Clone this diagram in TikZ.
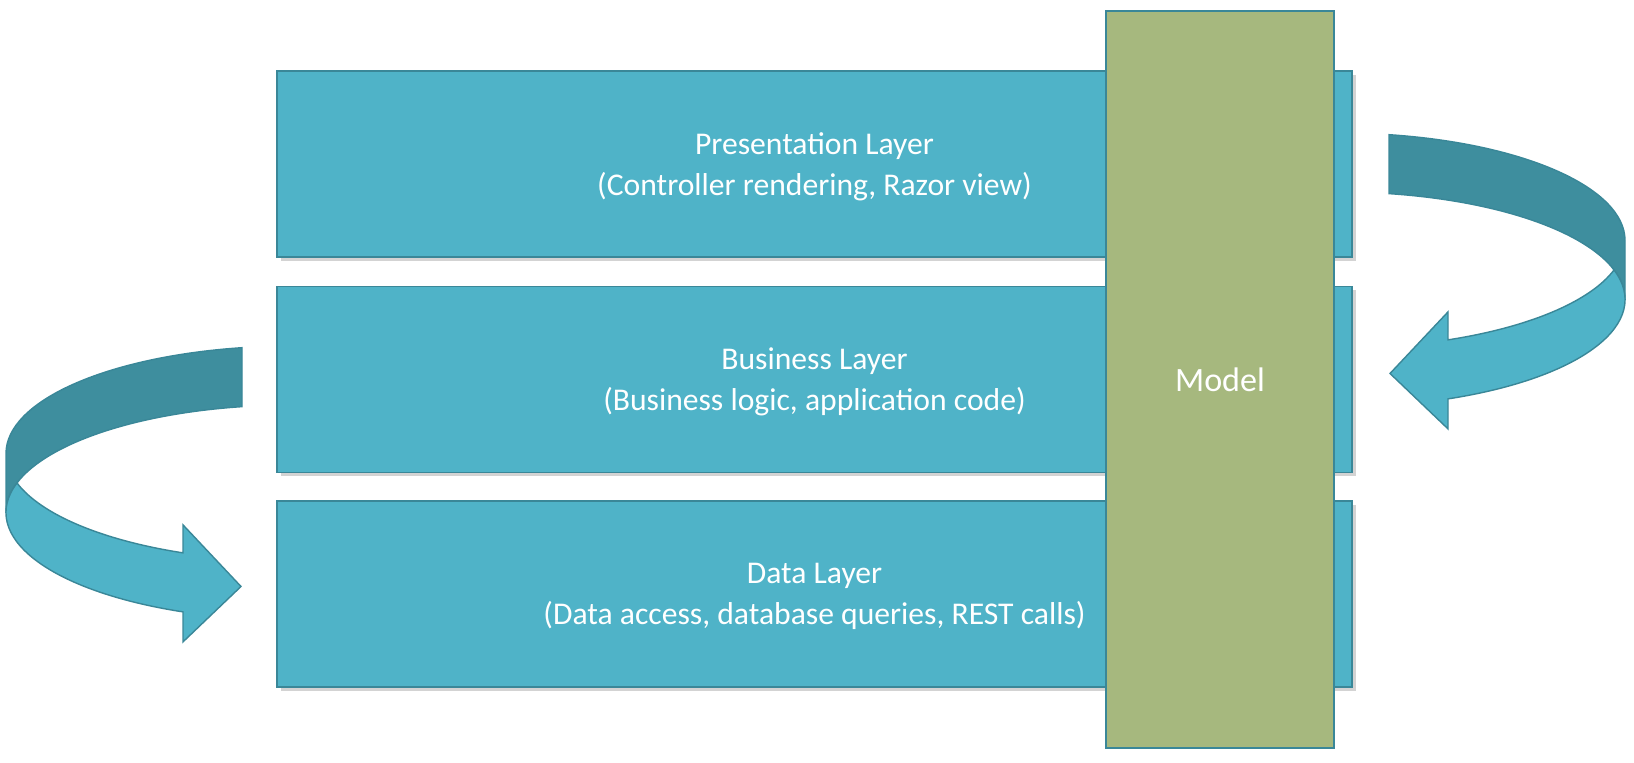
\documentclass[tikz,border=0pt]{standalone}
\usepackage{fontspec}
\setmainfont{Carlito}
\usetikzlibrary{positioning,shadows}
\definecolor{layerblue}{HTML}{4FB3C8}
\definecolor{layerline}{HTML}{3A8798}
\definecolor{bandback}{HTML}{3E8E9E}
\definecolor{modelgreen}{HTML}{A6B87E}
\tikzset{
  layer/.style={draw=layerline, fill=layerblue, minimum width=10.75cm, minimum height=1.86cm,
    text=white, align=center, font=\fontsize{9}{11.6}\selectfont, text depth=-0.04cm,
    drop shadow={shadow xshift=0.04cm, shadow yshift=-0.04cm, opacity=0.35}},
  modelbox/.style={draw=layerline, fill=modelgreen, minimum width=2.28cm, minimum height=7.37cm,
    text=white, font=\fontsize{9.7}{12}\selectfont},
  band/.style={draw=layerline, line width=0.4pt}
}
% turning arrow, origin at centre of upper ellipse
\newcommand{\turnarrow}{
  \draw[band, fill=bandback] (0.5,1.058)
    arc[start angle=79.93, end angle=0, x radius=2.86, y radius=1.075]
    -- (2.86,-0.59)
    arc[start angle=0, end angle=79.93, x radius=2.86, y radius=1.075] -- cycle;
  \draw[band, fill=layerblue] (2.75,-0.295)
    arc[start angle=-15.93, end angle=-67.6, x radius=2.86, y radius=1.075]
    -- (1.09,-0.714) -- (0.51,-1.33) -- (1.09,-1.884) -- (1.09,-1.584)
    arc[start angle=-67.6, end angle=15.93, x radius=2.86, y radius=1.075] -- cycle;
}
\begin{document}
\begin{tikzpicture}
  \useasboundingbox (0,0) rectangle (16.34,7.63);
  \node[layer] (pres) at (8.145,5.99) {Presentation Layer\\(Controller rendering, Razor view)};
  \node[layer] (bus) [below=0.28cm of pres] {Business Layer\\(Business logic, application code)};
  \node[layer] (data) [below=0.27cm of bus] {Data Layer\\(Data access, database queries, REST calls)};
  \node[modelbox] (model) at (12.20,3.835) {Model};
  % arrows
  \begin{scope}[shift={(13.39,5.225)}]
    \turnarrow
  \end{scope}
  \begin{scope}[shift={(2.92,3.095)}, xscale=-1]
    \turnarrow
  \end{scope}
\end{tikzpicture}
\end{document}
